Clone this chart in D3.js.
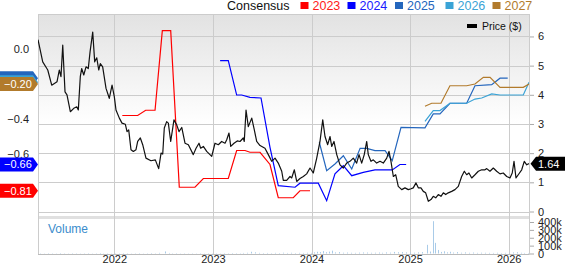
<!DOCTYPE html>
<html>
<head>
<meta charset="utf-8">
<script src="https://cdn.jsdelivr.net/npm/d3@7"></script>
<style>
  body { margin: 0; background: #fff; }
  svg { display: block; font-family: "Liberation Sans", Arial, sans-serif; }
</style>
</head>
<body>
<div id="chart"></div>
<script>
// tick labels
const yearTicks = [2022, 2023, 2024, 2025, 2026];
const priceTicks = [0, 1, 2, 3, 4, 5, 6];
const epsTicks = [0.0, -0.4, -0.6]; // -0.2 and -0.8 sit under the badges
const volumeTicks = [0, 100, 200, 300, 400]; // thousands
const consensusNames = ["2023", "2024", "2025", "2026", "2027"];

// [decimal year, price $]
const price = [
  [2021.226, 5.89], [2021.274, 5.13], [2021.325, 4.85], [2021.365, 4.33], [2021.419, 4.45],
  [2021.442, 4.85], [2021.459, 4.62], [2021.477, 5.70], [2021.500, 4.10], [2021.520, 4.00],
  [2021.554, 3.42], [2021.594, 3.55], [2021.619, 3.59], [2021.635, 3.48], [2021.655, 4.62],
  [2021.669, 4.90], [2021.690, 4.68], [2021.713, 4.96], [2021.736, 4.90], [2021.754, 5.47],
  [2021.781, 6.15], [2021.801, 5.13], [2021.822, 5.27], [2021.842, 4.85], [2021.858, 5.07],
  [2021.882, 4.96], [2021.916, 4.22], [2021.949, 3.88], [2021.977, 4.33], [2022.000, 3.94],
  [2022.017, 3.48], [2022.051, 3.20], [2022.078, 3.03], [2022.112, 2.99], [2022.129, 2.74],
  [2022.146, 2.80], [2022.169, 2.12], [2022.193, 2.06], [2022.220, 2.12], [2022.237, 2.40],
  [2022.264, 2.52], [2022.288, 2.29], [2022.321, 1.83], [2022.372, 1.74], [2022.416, 1.77],
  [2022.450, 1.47], [2022.474, 2.00], [2022.491, 1.97], [2022.507, 2.86], [2022.531, 3.08],
  [2022.548, 3.03], [2022.572, 2.40], [2022.605, 3.14], [2022.633, 2.97], [2022.656, 2.74],
  [2022.684, 2.88], [2022.717, 2.34], [2022.751, 2.29], [2022.801, 1.95], [2022.829, 2.17],
  [2022.859, 2.34], [2022.876, 2.17], [2022.903, 2.23], [2022.937, 2.06], [2022.988, 1.89],
  [2023.021, 2.34], [2023.055, 2.29], [2023.089, 2.40], [2023.123, 2.34], [2023.140, 2.46],
  [2023.163, 2.69], [2023.181, 2.23], [2023.214, 2.34], [2023.247, 2.42], [2023.275, 2.40],
  [2023.308, 2.52], [2023.318, 2.40], [2023.336, 3.48], [2023.359, 2.91], [2023.394, 3.20],
  [2023.420, 2.80], [2023.444, 2.40], [2023.478, 2.26], [2023.528, 2.17], [2023.562, 1.95],
  [2023.596, 1.72], [2023.630, 1.83], [2023.663, 1.66], [2023.698, 1.38], [2023.714, 1.07],
  [2023.748, 1.07], [2023.782, 1.20], [2023.799, 1.15], [2023.826, 1.43], [2023.850, 1.03],
  [2023.883, 1.13], [2023.917, 1.20], [2023.951, 1.29], [2023.985, 1.49], [2024.018, 1.32],
  [2024.053, 1.83], [2024.086, 2.40], [2024.114, 3.14], [2024.137, 2.57], [2024.164, 2.29],
  [2024.188, 2.57], [2024.205, 2.23], [2024.228, 2.40], [2024.256, 1.95], [2024.289, 1.60],
  [2024.323, 1.49], [2024.357, 1.66], [2024.390, 1.72], [2024.424, 1.83], [2024.458, 1.66],
  [2024.482, 1.95], [2024.509, 1.66], [2024.535, 1.95], [2024.560, 2.40], [2024.576, 1.95],
  [2024.603, 1.72], [2024.627, 1.77], [2024.661, 1.66], [2024.695, 1.72], [2024.728, 1.66],
  [2024.763, 1.83], [2024.786, 2.06], [2024.806, 1.72], [2024.830, 1.20], [2024.854, 1.26],
  [2024.880, 0.86], [2024.915, 0.75], [2024.948, 0.81], [2024.982, 0.75], [2025.010, 0.78],
  [2025.032, 0.81], [2025.060, 0.98], [2025.083, 0.81], [2025.110, 0.81], [2025.134, 0.69],
  [2025.158, 0.64], [2025.185, 0.35], [2025.212, 0.41], [2025.235, 0.52], [2025.260, 0.47],
  [2025.286, 0.58], [2025.313, 0.52], [2025.337, 0.64], [2025.361, 0.58], [2025.387, 0.64],
  [2025.422, 0.69], [2025.455, 0.75], [2025.489, 0.86], [2025.523, 1.20], [2025.550, 1.38],
  [2025.574, 1.26], [2025.597, 1.32], [2025.625, 1.15], [2025.658, 1.26], [2025.692, 1.38],
  [2025.726, 1.43], [2025.760, 1.43], [2025.777, 1.47], [2025.810, 1.38], [2025.844, 1.49],
  [2025.878, 1.38], [2025.912, 1.29], [2025.945, 1.32], [2025.980, 1.20], [2026.013, 1.15],
  [2026.036, 1.32], [2026.054, 1.72], [2026.074, 1.15], [2026.097, 1.26], [2026.132, 1.43],
  [2026.158, 1.72], [2026.183, 1.60], [2026.206, 1.64]
];

// consensus EPS estimates, [decimal year, eps]
const eps2023 = [
  [2022.081, -0.38], [2022.237, -0.38], [2022.318, -0.35], [2022.413, -0.35], [2022.487, 0.105],
  [2022.572, 0.105], [2022.659, -0.79], [2022.818, -0.79], [2022.903, -0.74], [2023.156, -0.74],
  [2023.241, -0.58], [2023.326, -0.58], [2023.376, -0.59], [2023.478, -0.59], [2023.579, -0.66],
  [2023.663, -0.85], [2023.815, -0.85], [2023.883, -0.81], [2023.985, -0.81]
];
const eps2024 = [
  [2023.073, -0.067], [2023.156, -0.067], [2023.241, -0.263], [2023.292, -0.263], [2023.376, -0.276],
  [2023.488, -0.28], [2023.579, -0.562], [2023.663, -0.781], [2023.833, -0.79], [2023.883, -0.767],
  [2024.069, -0.767], [2024.154, -0.867], [2024.238, -0.714], [2024.323, -0.667], [2024.408, -0.724],
  [2024.525, -0.705], [2024.644, -0.691], [2024.819, -0.691], [2024.897, -0.66], [2024.960, -0.66]
];
const eps2025 = [
  [2024.079, -0.533], [2024.154, -0.695], [2024.238, -0.657], [2024.323, -0.61], [2024.408, -0.686],
  [2024.493, -0.568], [2024.560, -0.568], [2024.644, -0.581], [2024.746, -0.581], [2024.819, -0.638],
  [2024.908, -0.448], [2025.151, -0.451], [2025.235, -0.371], [2025.303, -0.371], [2025.404, -0.31],
  [2025.574, -0.31], [2025.658, -0.21], [2025.828, -0.204], [2025.912, -0.167], [2025.990, -0.167]
];
const eps2026 = [
  [2025.151, -0.413], [2025.235, -0.352], [2025.303, -0.352], [2025.404, -0.31], [2025.574, -0.31],
  [2025.658, -0.286], [2025.726, -0.28], [2025.828, -0.257], [2025.912, -0.263], [2026.148, -0.263],
  [2026.206, -0.19]
];
const eps2027 = [
  [2025.151, -0.327], [2025.219, -0.31], [2025.313, -0.31], [2025.404, -0.21], [2025.574, -0.21],
  [2025.658, -0.20], [2025.743, -0.162], [2025.811, -0.162], [2025.912, -0.219], [2026.148, -0.219],
  [2026.206, -0.20]
];

// volume, [decimal year, shares in thousands]
const volume = [
  [2021.25, 4], [2021.29, 3], [2021.33, 5], [2021.37, 4], [2021.41, 3], [2021.45, 6], [2021.49, 4],
  [2021.53, 3], [2021.57, 5], [2021.61, 4], [2021.65, 3], [2021.69, 4], [2021.73, 5], [2021.77, 3],
  [2021.81, 4], [2021.85, 6], [2021.89, 3], [2021.93, 4], [2021.97, 3],
  [2022.01, 4], [2022.05, 3], [2022.09, 5], [2022.13, 4], [2022.17, 3], [2022.21, 4], [2022.25, 5],
  [2022.29, 3], [2022.33, 4], [2022.37, 6], [2022.41, 4], [2022.45, 8], [2022.51, 26], [2022.55, 7],
  [2022.59, 4], [2022.63, 5], [2022.67, 3], [2022.71, 4], [2022.75, 3], [2022.79, 4], [2022.83, 3],
  [2022.87, 5], [2022.91, 3], [2022.95, 4], [2022.99, 3],
  [2023.03, 4], [2023.07, 3], [2023.11, 5], [2023.15, 4], [2023.19, 6], [2023.23, 5], [2023.27, 4],
  [2023.31, 7], [2023.35, 9], [2023.39, 22], [2023.43, 15], [2023.47, 8], [2023.51, 6], [2023.55, 7],
  [2023.59, 5], [2023.63, 8], [2023.67, 6], [2023.71, 10], [2023.75, 7], [2023.79, 9], [2023.83, 6],
  [2023.87, 8], [2023.91, 7], [2023.95, 9], [2023.99, 8],
  [2024.03, 14], [2024.06, 22], [2024.09, 18], [2024.12, 30], [2024.15, 16], [2024.18, 24], [2024.21, 36],
  [2024.24, 14], [2024.28, 18], [2024.32, 10], [2024.36, 12], [2024.40, 9], [2024.44, 8], [2024.48, 11],
  [2024.52, 13], [2024.56, 12], [2024.60, 9], [2024.64, 10], [2024.68, 12], [2024.72, 9], [2024.76, 14],
  [2024.80, 11], [2024.84, 20], [2024.88, 16], [2024.92, 18], [2024.96, 14],
  [2025.00, 12], [2025.04, 10], [2025.08, 14], [2025.12, 18], [2025.17, 110], [2025.20, 25], [2025.23, 410],
  [2025.25, 135], [2025.28, 45], [2025.31, 20], [2025.34, 28], [2025.37, 15], [2025.40, 22], [2025.44, 12],
  [2025.48, 18], [2025.52, 10], [2025.56, 14], [2025.60, 9], [2025.64, 12], [2025.68, 8], [2025.72, 10],
  [2025.76, 9], [2025.80, 8], [2025.84, 7], [2025.88, 9], [2025.92, 6], [2025.96, 8],
  [2026.00, 7], [2026.04, 14], [2026.08, 16], [2026.12, 9], [2026.16, 7], [2026.20, 6]
];

const consensus = [eps2023, eps2024, eps2025, eps2026, eps2027];
const colors = ["#ff0000", "#0000ff", "#2466bd", "#3aa3d6", "#b27b2c"];
const labelColors = ["#ff1a1a", "#1a1aff", "#2466bd", "#3aa3d6", "#b27b2c"];

let w = 565, h = 264;
let left = 38, right = 529;
let plotTop = 14, mainBottom = 214;
let volBottom = 254;

let svg = d3.select("#chart").append("svg").
  attr("width", w).
  attr("height", h);

let defs = svg.append("defs");
let grad = defs.append("linearGradient").
  attr("id", "bg").
  attr("x1", 0).attr("y1", 0).attr("x2", 0).attr("y2", 1);
grad.append("stop").attr("offset", "0%").attr("stop-color", "#e2e2e2");
grad.append("stop").attr("offset", "55%").attr("stop-color", "#ffffff");
defs.append("clipPath").attr("id", "clip").
  append("rect").attr("x", left).attr("y", plotTop).attr("width", right - left).attr("height", mainBottom - plotTop);

let xScale = d3.scaleLinear().domain([2021.226, 2026.206]).range([left, right]);
let yPrice = d3.scaleLinear().domain([0, 6.77]).range([211.5, plotTop]);
let yEps = d3.scaleLinear().domain([-0.9286, 0.2]).range([211.5, plotTop]);
let yVol = d3.scaleLinear().domain([0, 400]).range([253.5, 222]);

// panels
svg.append("rect").
  attr("x", left).attr("y", plotTop).
  attr("width", right - left).attr("height", mainBottom - plotTop).
  attr("fill", "url(#bg)");
svg.append("rect").
  attr("x", left).attr("y", 216).
  attr("width", right - left).attr("height", 3).
  attr("fill", "#e0e0e0");

// grid
svg.append("g").selectAll("line").data(priceTicks).enter().append("line").
  attr("x1", left).attr("x2", right).
  attr("y1", d => Math.round(yPrice(d)) + 0.5).attr("y2", d => Math.round(yPrice(d)) + 0.5).
  attr("stroke", "#cccccc");
svg.append("g").selectAll("line").data(yearTicks).enter().append("line").
  attr("x1", d => Math.round(xScale(d)) + 0.5).attr("x2", d => Math.round(xScale(d)) + 0.5).
  attr("y1", plotTop).attr("y2", volBottom).
  attr("stroke", "#cccccc");
svg.append("rect").
  attr("x", left + 0.5).attr("y", plotTop + 0.5).
  attr("width", right - left).attr("height", volBottom - plotTop).
  attr("fill", "none").attr("stroke", "#cccccc");
svg.append("line").
  attr("x1", left).attr("x2", right).attr("y1", volBottom + 0.5).attr("y2", volBottom + 0.5).
  attr("stroke", "#bbbbbb");

// volume bars
svg.append("g").selectAll("line").data(volume).enter().append("line").
  attr("x1", d => Math.round(xScale(d[0])) + 0.5).attr("x2", d => Math.round(xScale(d[0])) + 0.5).
  attr("y1", yVol(0)).attr("y2", d => yVol(d[1])).
  attr("stroke", "#a9cbe8").attr("stroke-width", 1);

svg.append("text").
  attr("x", 48).attr("y", 233).
  attr("fill", "#3a8ccc").
  style("font-size", "12px").
  text("Volume");

// consensus lines
let plot = svg.append("g").attr("clip-path", "url(#clip)");
let epsLine = d3.line().x(d => xScale(d[0])).y(d => yEps(d[1]));
consensus.forEach((s, i) => {
  plot.append("path").
    datum(s).
    attr("d", epsLine).
    attr("fill", "none").
    attr("stroke", colors[i]).
    attr("stroke-width", 1.2);
});

// price line
let priceLine = d3.line().x(d => xScale(d[0])).y(d => yPrice(d[1]));
plot.append("path").
  datum(price).
  attr("d", priceLine).
  attr("fill", "none").
  attr("stroke", "#111").
  attr("stroke-width", 1.2).
  attr("stroke-linejoin", "round");

// right axis (price)
const rightAxis = d3.axisRight(yPrice).tickValues(priceTicks).tickSize(4).tickPadding(4).tickFormat(d3.format("d"));
let ra = svg.append("g").attr("transform", "translate(" + (right + 1) + ",0)").call(rightAxis);
ra.select(".domain").remove();
ra.selectAll("line").attr("stroke", "#aaaaaa");
ra.selectAll("text").style("font-size", "11px").attr("fill", "#222");

// right axis (volume)
const volAxis = d3.axisRight(yVol).tickValues(volumeTicks).tickSize(4).tickPadding(4).
  tickFormat(d => d === 0 ? "0" : d + "k");
let va = svg.append("g").attr("transform", "translate(" + (right + 1) + ",0)").call(volAxis);
va.select(".domain").remove();
va.selectAll("line").attr("stroke", "#aaaaaa");
va.selectAll("text").style("font-size", "11px").attr("fill", "#222");

// left axis (eps)
const leftAxis = d3.axisLeft(yEps).tickValues(epsTicks).tickSize(0).tickPadding(9).tickFormat(d3.format(".1f"));
let la = svg.append("g").attr("transform", "translate(" + left + ",0)").call(leftAxis);
la.select(".domain").remove();
la.selectAll("text").style("font-size", "11px").attr("fill", "#222");

// x axis
const xAxis = d3.axisBottom(xScale).tickValues(yearTicks).tickSize(0).tickPadding(1).tickFormat(d3.format("d"));
let xa = svg.append("g").attr("transform", "translate(0," + volBottom + ")").call(xAxis);
xa.select(".domain").remove();
xa.selectAll("text").style("font-size", "11px").attr("fill", "#222");

// last value badges on the left (2025 and 2026 are hidden behind 2027)
[2, 3, 4, 1, 0].forEach(i => {
  let s = consensus[i];
  let v = s[s.length - 1][1];
  let cy = yEps(v);
  svg.append("path").
    attr("d", "M0," + (cy - 7) + "H33L38," + cy + "L33," + (cy + 7) + "H0Z").
    attr("fill", colors[i]);
  if (i === 2 || i === 3) return;
  svg.append("text").
    attr("x", 4).attr("y", cy + 4).
    attr("fill", "#fff").
    style("font-size", "11px").
    text(d3.format(".2f")(v));
});

// last price badge
let lastPrice = price[price.length - 1][1];
let py = yPrice(lastPrice);
svg.append("path").
  attr("d", "M530.5," + py + "L536," + (py - 7) + "H565V" + (py + 7) + "H536Z").
  attr("fill", "#000");
svg.append("text").
  attr("x", 538).attr("y", py + 4).
  attr("fill", "#fff").
  style("font-size", "11px").
  text(lastPrice.toFixed(2));

// legend
svg.append("text").
  attr("x", 227).attr("y", 10).
  attr("fill", "#111").
  style("font-size", "12.5px").
  text("Consensus");
const legendX = [300.5, 347.5, 395, 445.5, 492.5];
consensusNames.forEach((name, i) => {
  svg.append("rect").
    attr("x", legendX[i]).attr("y", 2).
    attr("width", 8).attr("height", 7).
    attr("fill", colors[i]);
  svg.append("text").
    attr("x", legendX[i] + 12).attr("y", 10).
    attr("fill", labelColors[i]).
    style("font-size", "12.5px").
    text(name);
});

svg.append("rect").
  attr("x", 467).attr("y", 24).
  attr("width", 10).attr("height", 4).
  attr("fill", "#000");
svg.append("text").
  attr("x", 482).attr("y", 30).
  attr("fill", "#111").
  style("font-size", "10.5px").
  text("Price ($)");
</script>
</body>
</html>
